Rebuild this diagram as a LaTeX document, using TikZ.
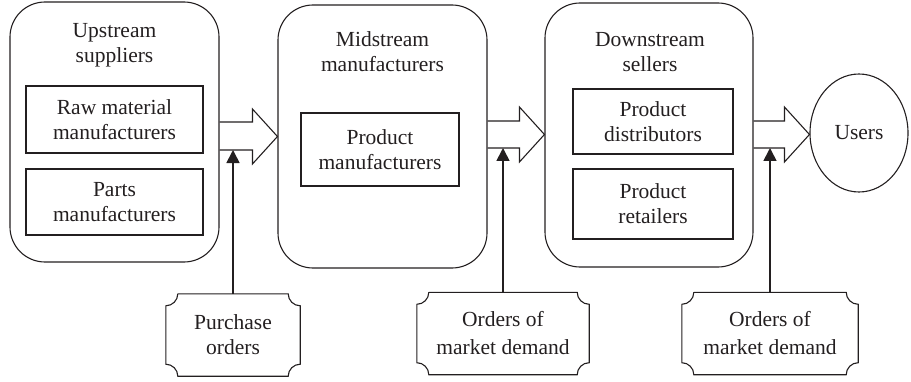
\documentclass[tikz,border=0pt]{standalone}
\usepackage{fontspec}
\setmainfont{Liberation Serif}
\usetikzlibrary{arrows.meta,calc,shapes.geometric}

\definecolor{ink}{HTML}{231F20}

% outline of a label plate with concave (scooped) corners
\newcommand\plateoutline[2][12pt]{%
  \draw[plate]
    ([xshift=#1]#2.north west) -- ([xshift=-#1]#2.north east)
    arc[start angle=180,end angle=270,radius=#1]
    -- ([yshift=#1]#2.south east)
    arc[start angle=90,end angle=180,radius=#1]
    -- ([xshift=#1]#2.south west)
    arc[start angle=0,end angle=90,radius=#1]
    -- ([yshift=-#1]#2.north west)
    arc[start angle=270,end angle=360,radius=#1];}

\begin{document}
\begin{tikzpicture}[x=1pt,y=1pt,
  font=\fontsize{21.5}{25}\selectfont, text=ink,
  stage/.style={draw=ink, line width=1.1pt, rounded corners=35pt},
  unit/.style={draw=ink, line width=1.1pt, align=center, inner sep=0pt},
  title/.style={align=center, inner sep=0pt},
  plate/.style={draw=ink, line width=1.1pt},
  platenode/.style={align=center, inner sep=0pt, minimum height=82pt},
  blk/.style={draw=ink, line width=1.1pt, line join=miter},
  order/.style={draw=ink, line width=1.7pt, -{Triangle[length=13pt,width=13pt]}},
]
\useasboundingbox (0,0) rectangle (911,381);

% supply chain stages
\node[stage, minimum width=209pt, minimum height=260pt] (B1) at (114.5,249) {};
\node[stage, minimum width=209pt, minimum height=263pt] (B2) at (382.5,244.5) {};
\node[stage, minimum width=208pt, minimum height=264pt] (B3) at (649,246) {};
\node[draw=ink, line width=1.1pt, ellipse, minimum width=98pt, minimum height=118pt,
      inner sep=0pt] (U) at (859,248) {Users};

% stage titles
\node[title] (T1) at (114.5,336) {Upstream\\suppliers};
\node[title] (T2) at (382.5,329) {Midstream\\manufacturers};
\node[title] (T3) at (650,329) {Downstream\\sellers};

% members of each stage
\node[unit, minimum width=177pt, minimum height=67pt] (raw) at (114.5,261.5) {Raw material\\manufacturers};
\node[unit, minimum width=177pt, minimum height=66pt] (parts) at (114.5,179) {Parts\\manufacturers};
\node[unit, minimum width=158pt, minimum height=73pt] (prod) at (380,231.5) {Product\\manufacturers};
\node[unit, minimum width=160pt, minimum height=65pt] (dist) at (653,259.5) {Product\\distributors};
\node[unit, minimum width=160pt, minimum height=70pt] (ret) at (653,177) {Product\\retailers};

% flow arrows between stages
\draw[blk] (B1.east |- 0,259) -- ([xshift=-25pt]B2.west |- 0,259)
  -- ([xshift=-25pt]B2.west |- 0,272) -- (B2.west |- 0,244.5)
  -- ([xshift=-25pt]B2.west |- 0,217) -- ([xshift=-25pt]B2.west |- 0,231)
  -- (B1.east |- 0,231);
\draw[blk] (B2.east |- 0,260) -- ([xshift=-25pt]B3.west |- 0,260)
  -- ([xshift=-25pt]B3.west |- 0,274) -- (B3.west |- 0,246.5)
  -- ([xshift=-25pt]B3.west |- 0,219) -- ([xshift=-25pt]B3.west |- 0,233)
  -- (B2.east |- 0,233);
\draw[blk] (B3.east |- 0,260) -- ([xshift=-25pt]U.west |- 0,260)
  -- ([xshift=-25pt]U.west |- 0,274) -- (U.west |- 0,246.5)
  -- ([xshift=-25pt]U.west |- 0,219) -- ([xshift=-25pt]U.west |- 0,233)
  -- (B3.east |- 0,233);

% order plates
\node[platenode, minimum width=134pt] (P1) at (233,46) {Purchase\\orders};
\node[platenode, minimum width=172pt, font=\fontsize{21.5}{28}\selectfont] (P2) at (503,47.5) {Orders of\\market demand};
\node[platenode, minimum width=176pt, font=\fontsize{21.5}{28}\selectfont] (P3) at (770,47.5) {Orders of\\market demand};
\plateoutline{P1}
\plateoutline{P2}
\plateoutline{P3}

% orders feeding each flow
\draw[order] (P1.north) -- (P1.north |- 0,231);
\draw[order] (P2.north) -- (P2.north |- 0,233);
\draw[order] (P3.north) -- (P3.north |- 0,233);
\end{tikzpicture}
\end{document}
